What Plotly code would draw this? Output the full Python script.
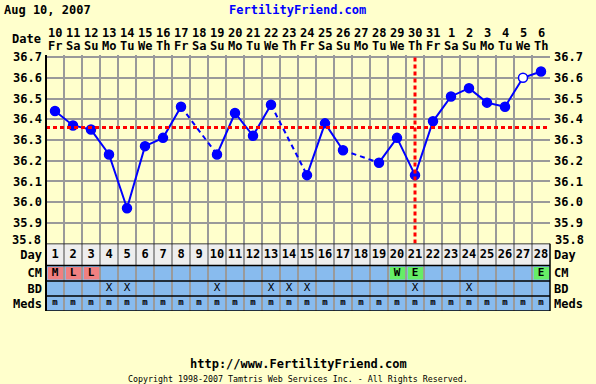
import plotly.graph_objects as go

# ---------------- data ----------------
header_date = "Aug 10, 2007"
site_name = "FertilityFriend.com"
site_url = "http://www.FertilityFriend.com"
copyright_text = "Copyright 1998-2007 Tamtris Web Services Inc. - All Rights Reserved."

cycle_days = list(range(1, 29))
dates = ["10", "11", "12", "13", "14", "15", "16", "17", "18", "19", "20", "21",
         "22", "23", "24", "25", "26", "27", "28", "29", "30", "31", "1", "2",
         "3", "4", "5", "6"]
weekdays = ["Fr", "Sa", "Su", "Mo", "Tu", "We", "Th"] * 4
temps = [36.44, 36.37, 36.35, 36.23, 35.97, 36.27, 36.31, 36.46, None, 36.23,
         36.43, 36.32, 36.47, None, 36.13, 36.38, 36.25, None, 36.19, 36.31,
         36.13, 36.39, 36.51, 36.55, 36.48, 36.46, 36.60, 36.63]
open_point_days = [27]
coverline_temp = 36.36
ovulation_day = 21
temp_ticks = [35.8, 35.9, 36.0, 36.1, 36.2, 36.3, 36.4, 36.5, 36.6, 36.7]

cm_values = ["M", "L", "L", "", "", "", "", "", "", "", "", "", "", "", "", "",
             "", "", "", "W", "E", "", "", "", "", "", "", "E"]
bd_values = ["", "", "", "X", "X", "", "", "", "", "X", "", "", "X", "X", "X",
             "", "", "", "", "", "X", "", "", "X", "", "", "", ""]
meds_values = ["m"] * 28
row_labels = ["Day", "CM", "BD", "Meds"]

# ---------------- style ----------------
BG = "#FFFFCC"
GRID = "#9A9A9A"
BLUE = "#0000FF"
RED = "#FF0000"
ROW_BLUE = "#88BBEE"
DAY_ROW = "#EEEEEE"
CM_COLORS = {"M": "#F08080", "L": "#F08080", "W": "#66EE66", "E": "#66EE66"}
MONO = "DejaVu Sans Mono"

W, H = 596, 384
ML, MR, MT, MB = 46, 46, 55, 73
plot_h = H - MT - MB
table_frac = 67.5 / plot_h

# table rows in y2 units (bottom -> top)
row_edges = {"Meds": (0, 15), "BD": (15, 30), "CM": (30, 45.5), "Day": (45.5, 67.5)}
row_center = {k: (a + b) / 2 for k, (a, b) in row_edges.items()}

fig = go.Figure()

# dashed connectors across missing days
dx, dy = [], []
for i, t in enumerate(temps):
    if t is None:
        p = i - 1
        while p >= 0 and temps[p] is None:
            p -= 1
        n = i + 1
        while n < len(temps) and temps[n] is None:
            n += 1
        if p >= 0 and n < len(temps):
            dx += [cycle_days[p], cycle_days[n], None]
            dy += [temps[p], temps[n], None]
fig.add_trace(go.Scatter(x=dx, y=dy, mode="lines",
                         line=dict(color=BLUE, width=2, dash="5px,4px"),
                         hoverinfo="skip", showlegend=False))

marker_fill = ["#FFFFFF" if d in open_point_days else BLUE for d in cycle_days]
fig.add_trace(go.Scatter(x=cycle_days, y=temps, mode="lines+markers",
                         connectgaps=False,
                         line=dict(color=BLUE, width=2),
                         marker=dict(size=9, color=marker_fill,
                                     line=dict(color=BLUE, width=1.5)),
                         showlegend=False))

# right-side temperature axis (dummy invisible trace)
fig.add_trace(go.Scatter(x=[1], y=[36.0], yaxis="y3", mode="markers",
                         marker=dict(opacity=0), hoverinfo="skip", showlegend=False))

# table texts
fig.add_trace(go.Scatter(x=cycle_days, y=[row_center["Day"]] * 28, yaxis="y2",
                         mode="text", text=[str(d) for d in cycle_days],
                         textfont=dict(family=MONO, size=12, color="black", weight="bold"),
                         hoverinfo="skip", showlegend=False))
fig.add_trace(go.Scatter(x=cycle_days, y=[row_center["CM"]] * 28, yaxis="y2",
                         mode="text", text=cm_values,
                         textfont=dict(family=MONO, size=11, color="black", weight="bold"),
                         hoverinfo="skip", showlegend=False))
fig.add_trace(go.Scatter(x=cycle_days, y=[row_center["BD"]] * 28, yaxis="y2",
                         mode="text", text=bd_values,
                         textfont=dict(family=MONO, size=11, color="black"),
                         hoverinfo="skip", showlegend=False))
fig.add_trace(go.Scatter(x=cycle_days, y=[row_center["Meds"] + 1] * 28, yaxis="y2",
                         mode="text", text=meds_values,
                         textfont=dict(family=MONO, size=9, color="black", weight="bold"),
                         hoverinfo="skip", showlegend=False))
fig.add_trace(go.Scatter(x=[1], y=[10], yaxis="y4", mode="markers",
                         marker=dict(opacity=0), hoverinfo="skip", showlegend=False))

shapes = []
# row backgrounds
shapes.append(dict(type="rect", xref="x", yref="y2", x0=0.5, x1=28.5,
                   y0=row_edges["Day"][0], y1=row_edges["Day"][1],
                   fillcolor=DAY_ROW, line=dict(width=0), layer="below"))
shapes.append(dict(type="rect", xref="x", yref="y2", x0=0.5, x1=28.5,
                   y0=row_edges["Meds"][0], y1=row_edges["CM"][1],
                   fillcolor=ROW_BLUE, line=dict(width=0), layer="below"))
# CM colored cells
for d, v in zip(cycle_days, cm_values):
    if v:
        shapes.append(dict(type="rect", xref="x", yref="y2", x0=d - 0.4, x1=d + 0.45,
                           y0=row_edges["CM"][0] + 1.5, y1=row_edges["CM"][1] - 1.5,
                           fillcolor=CM_COLORS[v], line=dict(width=0), layer="between"))
# coverline and ovulation line
shapes.append(dict(type="line", xref="paper", yref="y", x0=0, x1=1,
                   y0=coverline_temp, y1=coverline_temp,
                   line=dict(color=RED, width=3, dash="4px,3px"), layer="above"))
shapes.append(dict(type="line", xref="x", yref="y", x0=ovulation_day, x1=ovulation_day,
                   y0=35.8, y1=36.71,
                   line=dict(color=RED, width=3, dash="4px,3px"), layer="above"))
# table black lines
for yv in [0, 15, 30, 45.5, 67.5]:
    shapes.append(dict(type="line", xref="paper", yref="y2", x0=0, x1=1, y0=yv, y1=yv,
                       line=dict(color="black", width=1.5), layer="above"))
shapes.append(dict(type="line", xref="paper", yref="paper", x0=0, x1=0, y0=0, y1=1,
                   line=dict(color="black", width=2), layer="above"))
shapes.append(dict(type="line", xref="paper", yref="y2", x0=1, x1=1, y0=0, y1=67.5,
                   line=dict(color="black", width=1.5), layer="above"))


def py(px):
    return (H - MB - px) / plot_h


def pxx(px):
    return (px - ML) / (W - ML - MR)


bold12 = dict(family=MONO, size=12, color="black", weight="bold")
annotations = []
for d, dt, wd in zip(cycle_days, dates, weekdays):
    annotations.append(dict(x=d, y=py(33), xref="x", yref="paper", text=dt,
                            showarrow=False, xanchor="center", yanchor="middle", font=bold12))
    annotations.append(dict(x=d, y=py(45.5), xref="x", yref="paper", text=wd,
                            showarrow=False, xanchor="center", yanchor="middle", font=bold12))
annotations.append(dict(x=pxx(43), y=py(39), xref="paper", yref="paper", text="Date",
                        showarrow=False, xanchor="right", yanchor="middle", font=bold12))
annotations.append(dict(x=pxx(2), y=py(10), xref="paper", yref="paper", text=header_date,
                        showarrow=False, xanchor="left", yanchor="middle", font=bold12))
annotations.append(dict(x=pxx(297), y=py(10), xref="paper", yref="paper", text=site_name,
                        showarrow=False, xanchor="center", yanchor="middle",
                        font=dict(family=MONO, size=12, color=BLUE, weight="bold")))
annotations.append(dict(x=pxx(298), y=py(364), xref="paper", yref="paper", text=site_url,
                        showarrow=False, xanchor="center", yanchor="middle", font=bold12))
annotations.append(dict(x=pxx(298), y=py(379), xref="paper", yref="paper", text=copyright_text,
                        showarrow=False, xanchor="center", yanchor="middle",
                        font=dict(family=MONO, size=8.3, color="black")))
# lowest temperature label sits a little above its line (both sides)
low_label = f"{temp_ticks[0]:.1f}"
annotations.append(dict(x=0, y=temp_ticks[0], xref="paper", yref="y", text=low_label,
                        showarrow=False, xanchor="right", yanchor="middle", xshift=-3,
                        yshift=4, font=bold12))
annotations.append(dict(x=1, y=temp_ticks[0], xref="paper", yref="y", text=low_label,
                        showarrow=False, xanchor="left", yanchor="middle", xshift=3,
                        yshift=4, font=bold12))

temp_text = [""] + [f"{t:.1f}" for t in temp_ticks[1:]]
row_vals = [row_center[r] for r in row_labels]

fig.update_layout(
    width=W, height=H,
    margin=dict(l=ML, r=MR, t=MT, b=MB, pad=0),
    paper_bgcolor=BG, plot_bgcolor=BG,
    showlegend=False,
    xaxis=dict(range=[0.5, 28.5], tickvals=[i + 0.5 for i in range(0, 29)],
               showticklabels=False, ticks="", showgrid=True, gridcolor=GRID,
               gridwidth=1.5, zeroline=False, showline=False, fixedrange=True),
    yaxis=dict(domain=[table_frac, 1], range=[35.8, 36.71], tickvals=temp_ticks,
               ticktext=temp_text, tickfont=bold12, ticks="", ticklabelstandoff=3,
               showgrid=True, gridcolor=GRID, gridwidth=1.5, zeroline=False,
               showline=False, fixedrange=True),
    yaxis3=dict(overlaying="y", side="right", range=[35.8, 36.71], tickvals=temp_ticks,
                ticktext=temp_text, tickfont=bold12, ticks="", ticklabelstandoff=3,
                showgrid=False, zeroline=False, showline=False, fixedrange=True),
    yaxis2=dict(domain=[0, table_frac], range=[0, 67.5], tickvals=row_vals,
                ticktext=row_labels, tickfont=bold12, ticks="", ticklabelstandoff=3,
                showgrid=False, zeroline=False, showline=False, fixedrange=True,
                anchor="x"),
    yaxis4=dict(overlaying="y2", side="right", range=[0, 67.5], tickvals=row_vals,
                ticktext=row_labels, tickfont=bold12, ticks="", ticklabelstandoff=3,
                showgrid=False, zeroline=False, showline=False, fixedrange=True),
    shapes=shapes,
    annotations=annotations,
)

fig.write_html("out.html", config={"displayModeBar": False},
               post_script="document.body.style.margin='0';document.body.style.background='" + BG + "';")
